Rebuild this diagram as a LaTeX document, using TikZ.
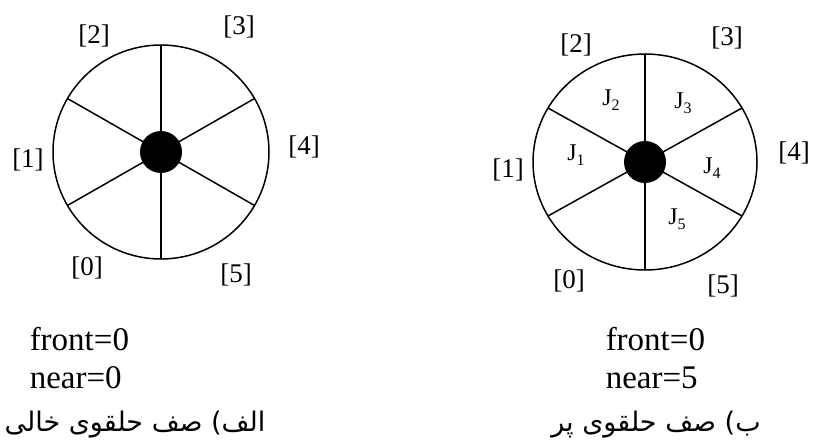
\documentclass[tikz,border=0pt]{standalone}
\usepackage{fontspec}
\setmainfont{Liberation Serif}
\newfontfamily\fafont[Script=Arabic]{DejaVu Sans}
\TeXXeTstate=1
\newcommand\jj[1]{J\raisebox{-5pt}{\fontsize{16}{17}\selectfont #1}}
\begin{document}
\begin{tikzpicture}[x=1pt,y=-1pt, line width=1.5pt,
  lbl/.style={font=\fontsize{27}{30}\selectfont, inner sep=0pt},
  jl/.style={font=\fontsize{24}{26}\selectfont, inner sep=0pt},
  captxt/.style={font=\fontsize{33}{36}\selectfont, anchor=base west, inner sep=0pt},
  fa/.style={font=\fafont\fontsize{27}{31}\selectfont, anchor=base, inner sep=0pt},
  hub/.style={circle, fill=black, minimum size=42pt, inner sep=0pt}]
\useasboundingbox (0,0) rectangle (813,441);
% ---- left wheel (empty queue)
\coordinate (Lc) at (161,152);
\draw (Lc) ellipse [x radius=108pt, y radius=107pt];
\foreach \a in {30,90,150,210,270,330}
  \draw (Lc) -- ++(\a:108pt and 107pt);
\node[hub] (Lh) at (Lc) {};
\node[lbl] (L0) at (87,268) {[0]};
\node[lbl] (L1) at (28,160) {[1]};
\node[lbl] (L2) at (94,36) {[2]};
\node[lbl] (L3) at (239,27) {[3]};
\node[lbl] (L4) at (304,147) {[4]};
\node[lbl] (L5) at (236,275) {[5]};
\node[captxt] (Lf) at (29,350) {front=0};
\node[captxt] (Ln) at (29,388) {near=0};
\node[fa] (Lt) at (135,431) {\beginR الف) صف حلقوی خالی\endR};
% ---- right wheel (full queue)
\coordinate (Rc) at (645,162);
\draw (Rc) ellipse [x radius=112pt, y radius=108pt];
\foreach \a in {30,90,150,210,270,330}
  \draw (Rc) -- ++(\a:112pt and 108pt);
\node[hub] (Rh) at (Rc) {};
\node[lbl] (R0) at (569,281) {[0]};
\node[lbl] (R1) at (508,170) {[1]};
\node[lbl] (R2) at (576,45) {[2]};
\node[lbl] (R3) at (727,38) {[3]};
\node[lbl] (R4) at (794,153) {[4]};
\node[lbl] (R5) at (723,286) {[5]};
\node[jl] (J1) at (576,155) {\jj{1}};
\node[jl] (J2) at (611,100) {\jj{2}};
\node[jl] (J3) at (683,103) {\jj{3}};
\node[jl] (J4) at (712,168) {\jj{4}};
\node[jl] (J5) at (677,219) {\jj{5}};
\node[captxt] (Rf) at (605,350) {front=0};
\node[captxt] (Rn) at (605,388) {near=5};
\node[fa] (Rt) at (656,431) {\beginR ب) صف حلقوی پر\endR};
\end{tikzpicture}
\end{document}
